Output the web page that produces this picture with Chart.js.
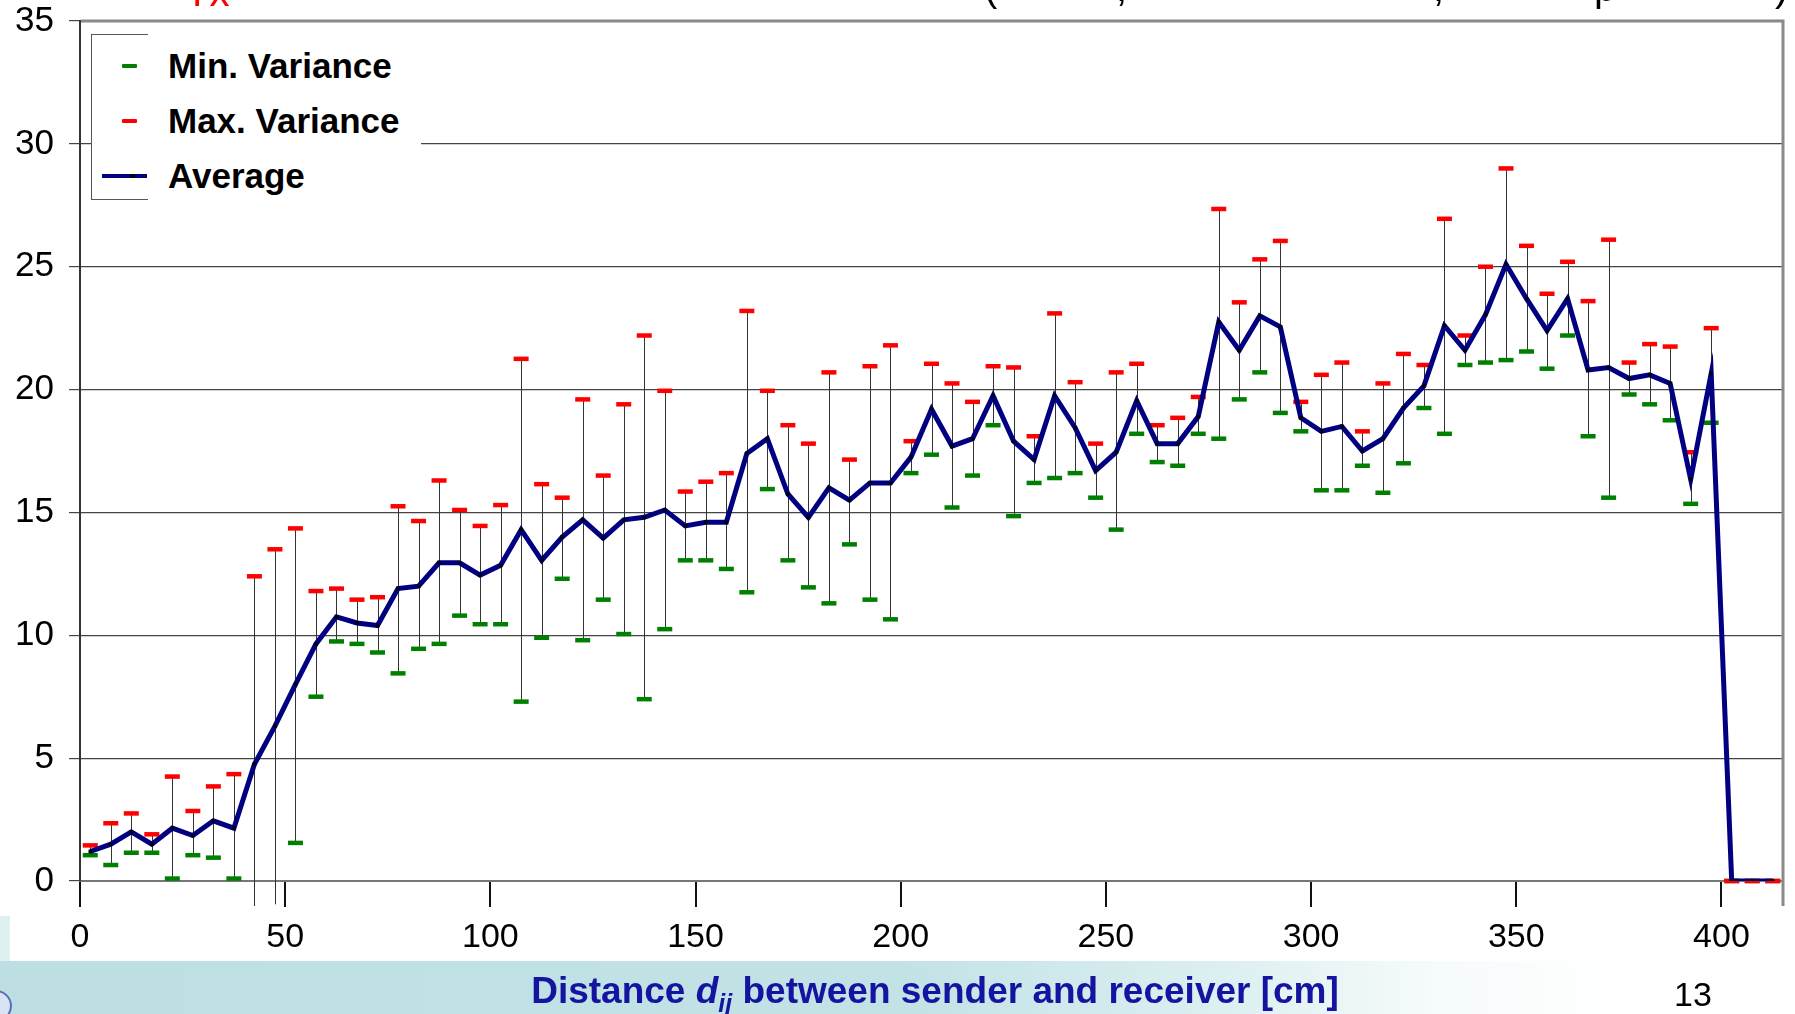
<!DOCTYPE html>
<html>
<head>
<meta charset="utf-8">
<script src="https://cdn.jsdelivr.net/npm/chart.js@4.4.1/dist/chart.umd.min.js"></script>
<style>
  body { margin:0; width:1795px; height:1014px; position:relative; overflow:hidden; background:#fff; font-family:"Liberation Sans", Arial, sans-serif; }
  #faixa { position:absolute; left:0; top:961px; width:1795px; height:53px;
           background:linear-gradient(to right, #bddfe3 0%, #c2e2e6 50%, #dcefF1 68%, #f6fbfb 80%, #ffffff 90%); }
  #tira { position:absolute; left:0; top:916px; width:10px; height:45px; background:#dff0f1; }
  #logo { position:absolute; left:-20px; top:990px; width:28px; height:28px; border-radius:50%; border:2px solid #5b6fb5; background:#d9e3f3; }
  /* o canvas sobe 15px para compensar o espaco que o Chart.js reserva acima do eixo */
  #grafico { position:absolute; left:0; top:-15px; }
  .topo { position:absolute; font-size:40px; line-height:40px; color:#000; white-space:nowrap; }
  #legenda { position:absolute; left:91px; top:34px; width:330px; height:166px; background:#fff; }
  #moldura { position:absolute; left:0; top:0; width:56px; height:164px; border:1px solid #555; border-right:none; }
  .item { position:absolute; left:77px; font-weight:bold; font-size:35px; line-height:40px; color:#000; white-space:nowrap; }
  .traco { position:absolute; left:31px; width:15px; height:4px; border-radius:1px; }
  #eixoX { position:absolute; left:935px; top:970px; transform:translateX(-50%); font-weight:bold; font-size:37px; line-height:42px; color:#1414a0; white-space:nowrap; }
  #eixoX sub { font-size:25px; vertical-align:-9px; line-height:0; }
  #pagina { position:absolute; left:1674px; top:975px; font-size:34px; line-height:38px; color:#000; }
</style>
</head>
<body>
<div id="faixa"></div>
<div id="tira"></div>
<div id="logo"></div>

<canvas id="grafico" width="1795" height="1029"></canvas>

<!-- restos do titulo do slide -->
<div class="topo" style="left:185px; top:-28px; color:#ff0000;">Tx</div>
<div class="topo" style="left:984px; top:-33px;">(</div>
<div class="topo" style="left:1116px; top:-33px;">,</div>
<div class="topo" style="left:1433px; top:-33px;">,</div>
<div class="topo" style="left:1594px; top:-33px;">p</div>
<div class="topo" style="left:1775px; top:-33px;">)</div>

<div id="legenda">
  <div id="moldura"></div>
  <div class="traco" style="top:30px; background:#008000;"></div>
  <div class="item" style="top:12px;">Min. Variance</div>
  <div class="traco" style="top:85px; background:#ff0000;"></div>
  <div class="item" style="top:67px;">Max. Variance</div>
  <div style="position:absolute; left:11px; top:140px; width:45px; height:4px; background:#000080;"></div>
  <div style="position:absolute; left:39px; top:140px; width:5px; height:4px; background:#000;"></div>
  <div class="item" style="top:122px;">Average</div>
</div>

<div id="eixoX">Distance <i>d</i><sub><i>ij</i></sub> between sender and receiver [cm]</div>
<div id="pagina">13</div>

<script>
// distancia entre emissor e receptor (cm)
var distancias = [2.5, 7.5, 12.5, 17.5, 22.5, 27.5, 32.5, 37.5, 42.5, 47.5,
  52.5, 57.5, 62.5, 67.5, 72.5, 77.5, 82.5, 87.5, 92.5, 97.5,
  102.5, 107.5, 112.5, 117.5, 122.5, 127.5, 132.5, 137.5, 142.5, 147.5,
  152.5, 157.5, 162.5, 167.5, 172.5, 177.5, 182.5, 187.5, 192.5, 197.5,
  202.5, 207.5, 212.5, 217.5, 222.5, 227.5, 232.5, 237.5, 242.5, 247.5,
  252.5, 257.5, 262.5, 267.5, 272.5, 277.5, 282.5, 287.5, 292.5, 297.5,
  302.5, 307.5, 312.5, 317.5, 322.5, 327.5, 332.5, 337.5, 342.5, 347.5,
  352.5, 357.5, 362.5, 367.5, 372.5, 377.5, 382.5, 387.5, 392.5, 397.5,
  402.5, 407.5, 412.5];

var media = [1.2, 1.5, 2.0, 1.5, 2.15, 1.85, 2.45, 2.15, 4.75, 6.3,
  8.0, 9.65, 10.75, 10.5, 10.4, 11.9, 12.0, 12.95, 12.95, 12.45,
  12.85, 14.3, 13.05, 14.0, 14.7, 13.95, 14.7, 14.8, 15.1, 14.45,
  14.6, 14.6, 17.4, 18.0, 15.75, 14.8, 16.0, 15.5, 16.2, 16.2,
  17.25, 19.2, 17.7, 18.0, 19.75, 17.9, 17.15, 19.75, 18.45, 16.7,
  17.45, 19.55, 17.8, 17.8, 18.9, 22.75, 21.6, 23.0, 22.55, 18.85,
  18.3, 18.5, 17.5, 18.0, 19.25, 20.15, 22.6, 21.6, 23.05, 25.1,
  23.7, 22.4, 23.7, 20.8, 20.9, 20.45, 20.6, 20.25, 16.35, 20.65,
  0, 0, 0];

var maximo = [1.45, 2.35, 2.75, 1.9, 4.25, 2.85, 3.85, 4.35, 12.4, 13.5,
  14.35, 11.8, 11.9, 11.45, 11.55, 15.25, 14.65, 16.3, 15.1, 14.45,
  15.3, 21.25, 16.15, 15.6, 19.6, 16.5, 19.4, 22.2, 19.95, 15.85,
  16.25, 16.6, 23.2, 19.95, 18.55, 17.8, 20.7, 17.15, 20.95, 21.8,
  17.9, 21.05, 20.25, 19.5, 20.95, 20.9, 18.1, 23.1, 20.3, 17.8,
  20.7, 21.05, 18.55, 18.85, 19.7, 27.35, 23.55, 25.3, 26.05, 19.5,
  20.6, 21.1, 18.3, 20.25, 21.45, 21.0, 26.95, 22.2, 25.0, 29.0,
  25.85, 23.9, 25.2, 23.6, 26.1, 21.1, 21.85, 21.75, 17.45, 22.5,
  0, 0, 0];

var minimo = [1.05, 0.65, 1.15, 1.15, 0.1, 1.05, 0.95, 0.1, -1.5, -0.95,
  1.55, 7.5, 9.75, 9.65, 9.3, 8.45, 9.45, 9.65, 10.8, 10.45,
  10.45, 7.3, 9.9, 12.3, 9.8, 11.45, 10.05, 7.4, 10.25, 13.05,
  13.05, 12.7, 11.75, 15.95, 13.05, 11.95, 11.3, 13.7, 11.45, 10.65,
  16.6, 17.35, 15.2, 16.5, 18.55, 14.85, 16.2, 16.4, 16.6, 15.6,
  14.3, 18.2, 17.05, 16.9, 18.2, 18.0, 19.6, 20.7, 19.05, 18.3,
  15.9, 15.9, 16.9, 15.8, 17.0, 19.25, 18.2, 21.0, 21.1, 21.2,
  21.55, 20.85, 22.2, 18.1, 15.6, 19.8, 19.4, 18.75, 15.35, 18.65,
  0, 0, 0];

var ticksX = [0, 50, 100, 150, 200, 250, 300, 350, 400];
var ticksY = [0, 5, 10, 15, 20, 25, 30, 35];

function pontos(valores) {
  return distancias.map(function (d, i) { return { x: d, y: valores[i] }; });
}

// linhas verticais entre minimo e maximo (abaixo dos marcadores)
var barras = {
  id: 'barras',
  beforeDatasetsDraw: function (chart) {
    var ctx = chart.ctx, a = chart.chartArea;
    var sx = chart.scales.x, sy = chart.scales.y;
    ctx.save();
    ctx.beginPath();
    ctx.rect(a.left, a.top, a.right - a.left, a.bottom - a.top + 25);
    ctx.clip();
    ctx.strokeStyle = '#333';
    ctx.lineWidth = 1;
    for (var i = 0; i < distancias.length; i++) {
      var x = Math.round(sx.getPixelForValue(distancias[i])) + 0.5;
      ctx.beginPath();
      ctx.moveTo(x, sy.getPixelForValue(maximo[i]));
      ctx.lineTo(x, sy.getPixelForValue(minimo[i]));
      ctx.stroke();
    }
    ctx.restore();
  },
  afterDraw: function (chart) {
    // borda cinza do topo e da direita
    var ctx = chart.ctx, a = chart.chartArea;
    ctx.save();
    ctx.strokeStyle = '#8a8a8a';
    ctx.lineWidth = 3;
    ctx.beginPath();
    ctx.moveTo(a.left + 1, a.top);
    ctx.lineTo(a.right, a.top);
    ctx.lineTo(a.right, a.bottom + 25);
    ctx.stroke();
    ctx.restore();
  }
};

Chart.defaults.font.family = '"Liberation Sans", Arial, sans-serif';
Chart.defaults.color = '#000';

var tela = document.getElementById('grafico').getContext('2d');

var grafico = new Chart(tela, {
  type: 'line',
  data: {
    datasets: [{
      label: 'Average',
      data: pontos(media),
      borderColor: '#000080',
      borderWidth: 5,
      tension: 0,
      pointStyle: 'rect',
      pointRadius: 2.5,
      pointBackgroundColor: '#000',
      pointBorderColor: '#000',
      pointBorderWidth: 0,
      clip: 0
    }, {
      label: 'Max. Variance',
      data: pontos(maximo),
      showLine: false,
      pointStyle: 'line',
      pointRadius: 7.5,
      pointBorderWidth: 4.5,
      pointBorderColor: '#ff0000',
      clip: { left: 10, top: 10, right: 10, bottom: 25 }
    }, {
      label: 'Min. Variance',
      data: pontos(minimo),
      showLine: false,
      pointStyle: 'line',
      pointRadius: 7.5,
      pointBorderWidth: 4.5,
      pointBorderColor: '#008000',
      clip: { left: 10, top: 10, right: 10, bottom: 25 }
    }]
  },
  options: {
    responsive: false,
    animation: false,
    devicePixelRatio: 1,
    layout: { padding: { left: 0, right: 8, top: 5, bottom: 0 } },
    plugins: { legend: { display: false }, tooltip: { enabled: false } },
    scales: {
      x: {
        type: 'linear',
        min: 0,
        max: 415,
        afterFit: function (eixo) { eixo.height = 133; },
        afterBuildTicks: function (eixo) { eixo.ticks = ticksX.map(function (v) { return { value: v }; }); },
        ticks: { font: { size: 34 }, padding: 10, maxRotation: 0, includeBounds: false },
        grid: { drawOnChartArea: false, drawTicks: true, tickLength: 26, color: '#111', lineWidth: 2 },
        border: { display: true, color: '#777', width: 2 }
      },
      y: {
        min: 0,
        max: 35,
        afterFit: function (eixo) { eixo.width = 80; },
        afterBuildTicks: function (eixo) { eixo.ticks = ticksY.map(function (v) { return { value: v }; }); },
        ticks: { font: { size: 35 }, padding: 15 },
        grid: { color: '#444', lineWidth: 1.2, tickLength: 11 },
        border: { display: true, color: '#333', width: 2 }
      }
    }
  },
  plugins: [barras]
});
</script>
</body>
</html>
